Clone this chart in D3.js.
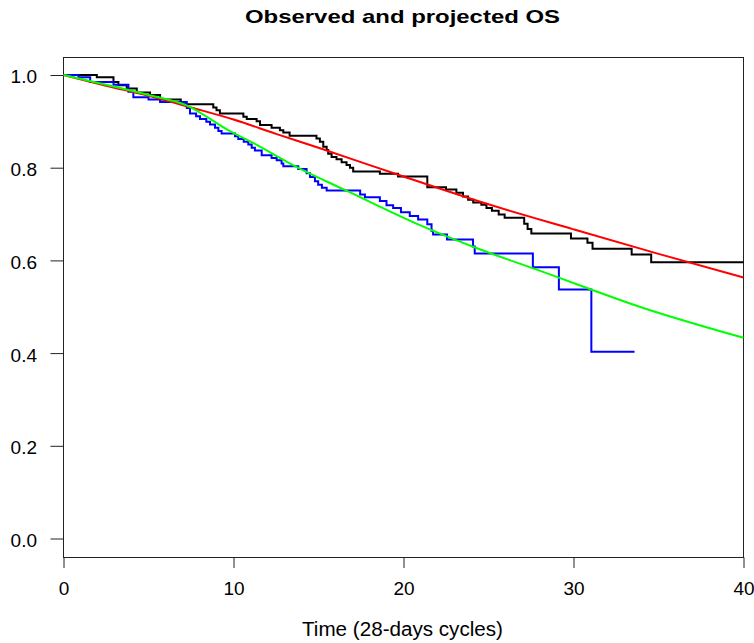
<!DOCTYPE html>
<html>
<head>
<meta charset="utf-8">
<script src="https://cdn.jsdelivr.net/npm/d3@7"></script>
<style>
  html, body { margin: 0; padding: 0; background: #fff; }
  svg { display: block; }
</style>
</head>
<body>
<svg id="chart" width="754" height="643"></svg>
<script>
// ---- data ----
const title = "Observed and projected OS";
const xLabel = "Time (28-days cycles)";
const xTicks = [0, 10, 20, 30, 40];
const yTicks = [0.0, 0.2, 0.4, 0.6, 0.8, 1.0];

// Observed KM, black arm: [time, survival after step]
const kmBlack = [
  [0, 1.0], [1.96, 0.995], [2.94, 0.985], [3.23, 0.978], [3.72, 0.971], [4.31, 0.962],
  [5.09, 0.957], [5.68, 0.947], [6.9, 0.937], [8.81, 0.930], [9.0, 0.924], [9.2, 0.917],
  [10.58, 0.910], [10.78, 0.905], [11.36, 0.900], [11.56, 0.892], [12.24, 0.886],
  [12.73, 0.881], [12.93, 0.876], [13.3, 0.869], [14.88, 0.863], [15.08, 0.856],
  [15.28, 0.845], [15.48, 0.838], [15.57, 0.830], [15.77, 0.823], [16.06, 0.818],
  [16.36, 0.812], [16.65, 0.806], [16.85, 0.800], [17.04, 0.792], [18.61, 0.787],
  [19.68, 0.781], [21.4, 0.758], [22.5, 0.753], [23.11, 0.746], [23.5, 0.738],
  [23.8, 0.731], [24.1, 0.725], [24.58, 0.720], [24.88, 0.713], [25.2, 0.707],
  [25.6, 0.699], [25.95, 0.692], [27.1, 0.679], [27.3, 0.668], [27.52, 0.658],
  [29.85, 0.647], [30.82, 0.638], [31.12, 0.625], [33.42, 0.613], [34.57, 0.596],
  [40, 0.596]
];

// Observed KM, blue arm
const kmBlue = [
  [0, 1.0], [0.88, 0.995], [1.57, 0.985], [2.94, 0.979], [3.82, 0.964], [4.11, 0.952],
  [5.0, 0.947], [5.68, 0.942], [7.25, 0.929], [7.44, 0.917], [7.8, 0.911], [8.03, 0.905],
  [8.4, 0.899], [8.62, 0.893], [8.91, 0.886], [9.11, 0.879], [9.3, 0.874], [10.09, 0.868],
  [10.28, 0.862], [10.6, 0.856], [10.87, 0.850], [11.07, 0.843], [11.26, 0.837],
  [11.66, 0.827], [12.24, 0.821], [12.54, 0.816], [12.83, 0.809], [12.93, 0.803],
  [13.81, 0.797], [14.3, 0.788], [14.5, 0.780], [14.79, 0.771], [14.98, 0.763],
  [15.2, 0.757], [15.48, 0.751], [17.45, 0.742], [17.73, 0.736], [18.61, 0.728],
  [19.0, 0.719], [19.39, 0.713], [19.85, 0.704], [20.37, 0.696], [20.86, 0.688],
  [21.4, 0.678], [21.65, 0.664], [21.74, 0.656], [22.56, 0.645], [24.09, 0.630],
  [24.19, 0.615], [27.61, 0.585], [29.14, 0.537], [31.05, 0.403], [33.59, 0.403]
];

// Projected curves
const projRed = [
  [0, 1.0], [2.5, 0.977], [5, 0.955], [7.5, 0.930], [10, 0.904], [12.5, 0.873],
  [15, 0.843], [20, 0.781], [25, 0.721], [30, 0.667], [35, 0.614], [40, 0.563]
];
const projGreen = [
  [0, 1.0], [2.5, 0.979], [5, 0.957], [7.2, 0.935], [9.79, 0.879], [10.97, 0.857],
  [13.9, 0.798], [16.55, 0.752], [20.96, 0.676], [24.48, 0.624], [28, 0.578],
  [34.47, 0.493], [40, 0.433]
];

// ---- drawing ----
const svg = d3.select("#chart");
const x = d3.scaleLinear().domain([0, 40]).range([63.5, 743.5]);
const y = d3.scaleLinear().domain([0, 1]).range([538.5, 75]);
const font = "'Liberation Sans', Arial, Helvetica, sans-serif";

const frameTop = Math.round(y(1.039)) + 0.5;
const frameBottom = Math.round(y(-0.039)) + 0.5;

// x axis
const gx = svg.append("g")
  .attr("transform", `translate(0,${frameBottom})`)
  .call(d3.axisBottom(x).tickValues(xTicks).tickSize(10.5).tickSizeOuter(0).tickPadding(13.5)
    .tickFormat(d3.format("d")));
gx.select(".domain").remove();
gx.selectAll(".tick line").attr("stroke", "#222");
gx.selectAll(".tick text").attr("fill", "#000").style("font-family", font).style("font-size", "19px");

// y axis
const gy = svg.append("g")
  .attr("transform", `translate(${x(0)},0)`)
  .call(d3.axisLeft(y).tickValues(yTicks).tickSize(13).tickSizeOuter(0).tickPadding(13.5)
    .tickFormat(d3.format(".1f")));
gy.select(".domain").remove();
gy.selectAll(".tick line").attr("stroke", "#222");
gy.selectAll(".tick text").attr("fill", "#000").attr("dy", "0.42em")
  .style("font-family", font).style("font-size", "19px");

// frame
svg.append("rect")
  .attr("x", x(0)).attr("y", frameTop)
  .attr("width", x(40) - x(0)).attr("height", frameBottom - frameTop)
  .attr("fill", "none").attr("stroke", "#222").attr("stroke-width", 1);

const stepLine = d3.line().x(d => x(d[0])).y(d => y(d[1])).curve(d3.curveStepAfter);
const smoothLine = d3.line().x(d => x(d[0])).y(d => y(d[1])).curve(d3.curveMonotoneX);

svg.append("path").datum(kmBlack).attr("d", stepLine)
  .attr("fill", "none").attr("stroke", "#000").attr("stroke-width", 2);
svg.append("path").datum(kmBlue).attr("d", stepLine)
  .attr("fill", "none").attr("stroke", "#0000ff").attr("stroke-width", 2);
svg.append("path").datum(projRed).attr("d", smoothLine)
  .attr("fill", "none").attr("stroke", "#ff0000").attr("stroke-width", 2);
svg.append("path").datum(projGreen).attr("d", smoothLine)
  .attr("fill", "none").attr("stroke", "#00ff00").attr("stroke-width", 2);

// title
svg.append("text")
  .attr("x", 402.5).attr("y", 23.3)
  .attr("text-anchor", "middle")
  .attr("textLength", 315).attr("lengthAdjust", "spacingAndGlyphs")
  .style("font-family", font).style("font-weight", "bold").style("font-size", "19px")
  .attr("fill", "#000")
  .text(title);

// x label
svg.append("text")
  .attr("x", 402.5).attr("y", 636)
  .attr("text-anchor", "middle")
  .attr("textLength", 201).attr("lengthAdjust", "spacingAndGlyphs")
  .style("font-family", font).style("font-size", "20px")
  .attr("fill", "#000")
  .text(xLabel);
</script>
</body>
</html>
